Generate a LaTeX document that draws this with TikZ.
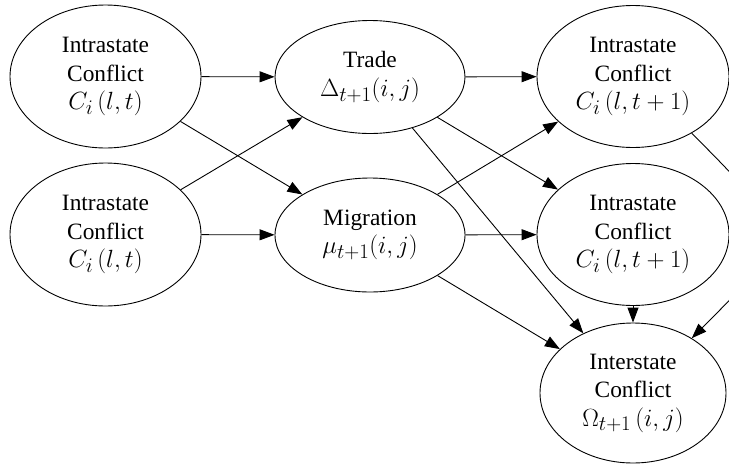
\RequirePackage{fix-cm}
\documentclass[tikz,border=0pt]{standalone}
\usepackage[no-math]{fontspec}
\setmainfont{Liberation Serif}
\usetikzlibrary{shapes.geometric,arrows.meta}
\newcommand\mth[1]{{\fontsize{24.88}{28.5}\selectfont$#1$}}
\tikzset{
  ell/.style={draw, ellipse, line width=0.9pt, inner sep=0pt, align=center,
    font=\fontsize{23.4}{28.5}\selectfont},
  arr/.style={line width=0.9pt, -{Triangle[length=15pt,width=11pt]}}
}
\begin{document}
\begin{tikzpicture}[x=1pt,y=-1pt]
\useasboundingbox (0,0) rectangle (729,464);
\clip (0,0) rectangle (729,464);
\node[ell, minimum width=191pt, minimum height=143pt] (L1) at (105.5,76.5) {Intrastate\\Conflict\\\mth{C_i\left(l,t\right)}};
\node[ell, minimum width=191pt, minimum height=143pt] (L2) at (105.5,234.5) {Intrastate\\Conflict\\\mth{C_i\left(l,t\right)}};
\node[ell, minimum width=190pt, minimum height=113pt] (T) at (370,77) {Trade\\\mth{\Delta_{t+1}(i,j)}};
\node[ell, minimum width=190pt, minimum height=114pt] (M) at (370,235) {Migration\\\mth{\mu_{t+1}(i,j)}};
\node[ell, minimum width=192pt, minimum height=142pt] (R1) at (633,76.5) {Intrastate\\Conflict\\\mth{C_i\left(l,t+1\right)}};
\node[ell, minimum width=192pt, minimum height=142pt] (R2) at (633,234.5) {Intrastate\\Conflict\\\mth{C_i\left(l,t+1\right)}};
\node[ell, minimum width=186pt, minimum height=140pt] (B) at (633,393) {Interstate\\Conflict\\\mth{\Omega_{t+1}\left(i,j\right)}};
\draw[arr] (L1) -- (T);
\draw[arr] (L1) -- (M);
\draw[arr] (L2) -- (T);
\draw[arr] (L2) -- (M);
\draw[arr] (T) -- (R1);
\draw[arr] (T) -- (R2);
\draw[arr] (T) -- (B);
\draw[arr] (M) -- (R1);
\draw[arr] (M) -- (R2);
\draw[arr] (M) -- (B);
\draw[arr] (R2) -- (B);
\draw[arr] (R1.-44) .. controls (793,235) and (793,237) .. (B.43);
\end{tikzpicture}
\end{document}
